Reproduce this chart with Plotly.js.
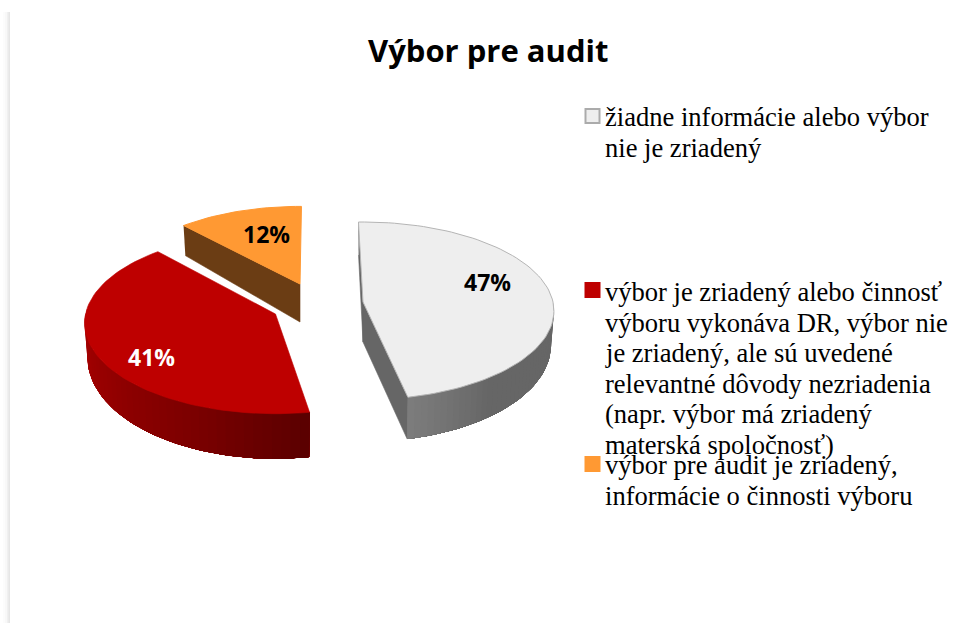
<!DOCTYPE html>
<html><head><meta charset="utf-8">
<script src="https://cdn.plot.ly/plotly-3.0.1.min.js"></script>
<style>html,body{margin:0;padding:0;background:#fff}#c{width:953px;height:623px}</style>
</head><body><div id="c"></div>
<script>
// ---- data ----
const categories = ['žiadne informácie alebo výbor nie je zriadený',
  'výbor je zriadený alebo činnosť výboru vykonáva DR, výbor nie je zriadený, ale sú uvedené relevantné dôvody nezriadenia (napr. výbor má zriadený materská spoločnosť)',
  'výbor pre audit je zriadený, informácie o činnosti výboru'];
const values = [47, 41, 12];
const legendLines = [
  ['žiadne informácie alebo výbor', 'nie je zriadený'],
  ['výbor je zriadený alebo činnosť', 'výboru vykonáva DR, výbor nie', 'je zriadený, ale sú uvedené', 'relevantné dôvody nezriadenia', '(napr. výbor má zriadený', 'materská spoločnosť)'],
  ['výbor pre audit je zriadený,', 'informácie o činnosti výboru']
];
const chartTitle = 'Výbor pre audit';

// ---- style / layout ----
const topColors = ['#EEEEEE', '#BE0000', '#FF9933'];
const labelColors = ['#000000', '#FFFFFF', '#000000'];
const centers = [[363, 302], [275.5, 314], [300, 284]];
const scales = [1, 1, 0.97];
const rotations = [-1.5, 1.5, 0.5];
const yScales = [1, 1.02, 1];
const sideDepth = [33, 33, 30];
const frontDepth = [42, 45, 38];
const apexDepth = [40, 40, 38];
const labelPos = [[487, 282], [151, 357], [266, 234]];
const legendKeyY = [116, 290, 464];
const legendFirstBaseline = [125, 300, 473];
const RX = 190, RY = 88, P = 0.1;

function project(i, deg) {
  const t = (deg + rotations[i]) * Math.PI / 180, u = Math.sin(t), v = -Math.cos(t), s = scales[i] / (1 - P * v);
  return {x: centers[i][0] + RX * u * s, y: centers[i][1] + RY * yScales[i] * v * s, v};
}
function lower(i, p) {
  const d = sideDepth[i] + (frontDepth[i] - sideDepth[i]) * Math.max(0, p.v);
  return {x: centers[i][0] + (p.x - centers[i][0]) * 0.985, y: p.y + d};
}
function arc(i, a, b) {
  const n = Math.max(2, Math.ceil(Math.abs(b - a) / 2)), out = [];
  for (let k = 0; k <= n; k++) out.push(project(i, a + (b - a) * k / n));
  return out;
}
function poly(pts, fill, line, width) {
  return {type: 'scatter', mode: 'lines', x: pts.map(p => p.x), y: pts.map(p => p.y), fill: 'toself',
    fillcolor: fill, line: {color: line || fill, width: width === undefined ? 0.6 : width},
    hoverinfo: 'skip', showlegend: false};
}
function mix(c1, c2, f) {
  const r = c1.map((c, j) => Math.round(c + (c2[j] - c) * f));
  return 'rgb(' + r.join(',') + ')';
}
// wall bands: each band runs to the far end and the next band paints over it, so no seams show
function wall(i, a, b, stops) {
  const n = 40, out = [];
  for (let k = 0; k < n; k++) {
    const a0 = a + (b - a) * k / n;
    const top = arc(i, a0, b), bot = top.map(p => lower(i, p)).reverse();
    const f = (k + .5) / n, seg = f * (stops.length - 1), q = Math.min(stops.length - 2, Math.floor(seg));
    out.push(poly(top.concat(bot), mix(stops[q], stops[q + 1], seg - q), null, 0));
  }
  return out;
}

// slice angles come from the values
const total = values.reduce((a, b) => a + b, 0);
let acc = 0;
const ang = values.map(v => { const a = acc; acc += v / total * 360; return [a, acc]; });

function inner(i, a, color) {
  const c = {x: centers[i][0], y: centers[i][1], v: 0};
  const p = project(i, a);
  return poly([p, c, {x: c.x, y: c.y + apexDepth[i]}, lower(i, p)], color);
}
function topFace(i, line, w) {
  const c = {x: centers[i][0], y: centers[i][1]};
  return poly([c].concat(arc(i, ang[i][0], ang[i][1]), [c]), topColors[i], line, w);
}

const traces = [
  // orange
  inner(2, ang[2][0], '#6B3D14'),
  topFace(2, '#FF9933', 1),
  // red
  ...wall(1, ang[1][1] - 45, ang[1][0], [[172,0,0],[150,0,0],[125,0,0],[90,0,0]]),
  topFace(1, '#BE0000', 0.6),
  // grey
  inner(0, ang[0][0], '#666666'),
  inner(0, ang[0][1], '#666666'),
  ...wall(0, 92, ang[0][1], [[102,102,102],[102,102,102],[102,102,102],[125,125,125]]),
  topFace(0, '#B5B5B5', 1)
];

const annotations = [{text: '<b>' + chartTitle + '</b>', x: 488, y: 50, xref: 'x', yref: 'y', showarrow: false,
  font: {family: 'Open Sans', size: 31, color: '#000'}, xanchor: 'center', yanchor: 'middle'}];
values.forEach((v, i) => annotations.push({text: '<b>' + Math.round(v / total * 100) + '%</b>',
  x: labelPos[i][0], y: labelPos[i][1], xref: 'x', yref: 'y', showarrow: false,
  font: {family: 'Open Sans', size: 23, color: labelColors[i]}, xanchor: 'center', yanchor: 'middle'}));
legendLines.forEach((lines, i) => lines.forEach((t, k) => annotations.push({text: t,
  x: 605, y: legendFirstBaseline[i] + k * 30.6 - 8, xref: 'x', yref: 'y', showarrow: false, xanchor: 'left', xshift: -2,
  yanchor: 'middle', font: {family: 'Liberation Serif', size: 26.55, color: '#000'}})));

const keyFill = ['#EEEEEE', '#BE0000', '#FF9933'], keyLine = ['#ABABAB', '#BE0000', '#FF9933'];
const shapes = legendKeyY.map((y, i) => ({type: 'rect', xref: 'x', yref: 'y', x0: 585.5, x1: 599.5, y0: y - 7, y1: y + 7,
  fillcolor: keyFill[i], line: {color: keyLine[i], width: 2}}));
// page shadow down the left edge
[['#FCFCFC', 3], ['#F8F8F8', 5], ['#F0F0F0', 7], ['#E6E6E6', 8.5]].forEach(([col, x0]) =>
  shapes.push({type: 'rect', xref: 'x', yref: 'y', x0, x1: 10, y0: 12, y1: 623, fillcolor: col, line: {width: 0}, layer: 'below'}));

Plotly.newPlot('c', traces, {
  width: 953, height: 623, margin: {l: 0, r: 0, t: 0, b: 0}, showlegend: false,
  paper_bgcolor: '#fff', plot_bgcolor: '#fff',
  xaxis: {range: [0, 953], visible: false, fixedrange: true},
  yaxis: {range: [623, 0], visible: false, fixedrange: true},
  annotations, shapes
}, {displayModeBar: false, staticPlot: true});
</script></body></html>
